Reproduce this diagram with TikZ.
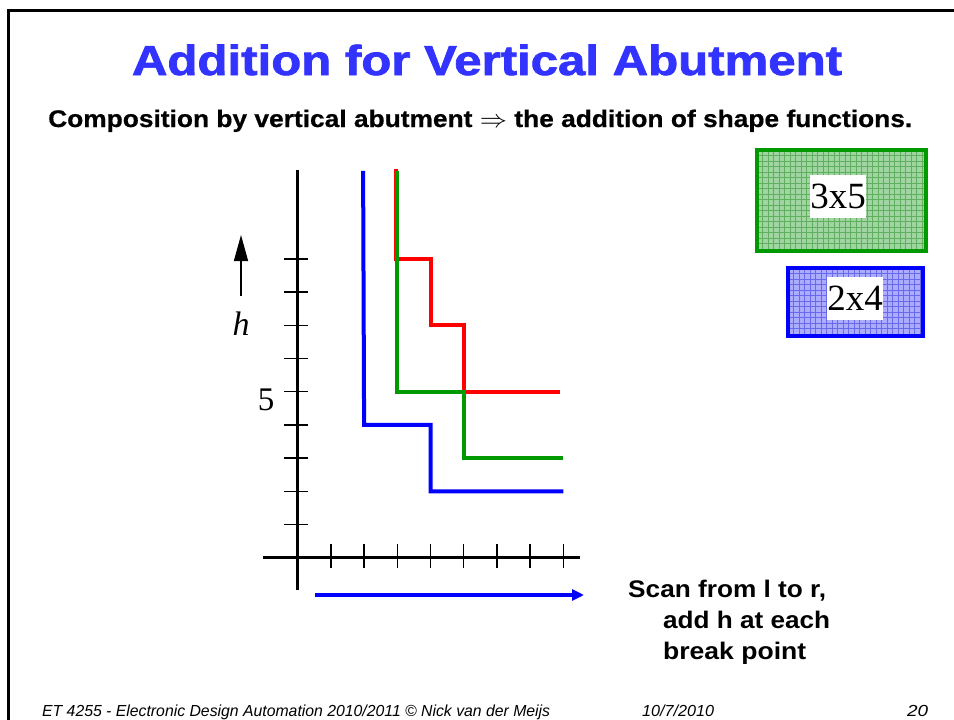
\documentclass[tikz,border=0pt]{standalone}
\usepackage{fontspec}
\setmainfont{Liberation Serif}
\newfontfamily\arial{Liberation Sans}
\newfontfamily\arialheavy{Liberation Sans}[BoldFeatures={FakeBold=1.6}]
\newfontfamily\arialmid{Liberation Sans}[BoldFeatures={FakeBold=0.6}]
\usetikzlibrary{arrows.meta}
\definecolor{ttl}{RGB}{51,51,255}
\definecolor{grn}{RGB}{0,153,0}
\definecolor{blu}{RGB}{0,0,255}
\definecolor{rd}{RGB}{255,0,0}
\definecolor{gfill}{RGB}{160,212,160}
\definecolor{ggrid}{RGB}{95,175,95}
\definecolor{bfill}{RGB}{172,172,255}
\definecolor{bgrid}{RGB}{105,105,235}
\tikzset{
  frameline/.style={line width=3pt, black},
  axisline/.style={line width=2.6pt, black},
  tickline/.style={line width=1.4pt, black},
  curve/.style={line width=4pt, line join=miter},
  lbl/.style={fill=white, inner sep=0pt, minimum width=54pt, minimum height=43pt, font=\fontsize{37}{37}\selectfont},
  sans/.style={font=\arial\bfseries\fontsize{24}{24}\selectfont, inner sep=0pt},
  foot/.style={font=\arial\itshape\fontsize{16}{16}\selectfont, inner sep=0pt},
}
\begin{document}
\begin{tikzpicture}[x=1pt,y=-1pt]
\useasboundingbox (0,0) rectangle (954,720);
\fill[white] (0,0) rectangle (954,720);
% frame
\draw[frameline] (8,721) -- (8,10) -- (955,10);
% title
\node[anchor=base, text=ttl, font=\arialheavy\bfseries\fontsize{42}{42}\selectfont, inner sep=0pt] (title) at (487,75) {\resizebox{710pt}{\height}{Addition for Vertical Abutment}};
\node[anchor=base west, font=\arialmid\bfseries\fontsize{24}{24}\selectfont, inner sep=0pt] (sub) at (48,127) {\resizebox{864pt}{\height}{Composition by vertical abutment $\Rightarrow$ the addition of shape functions.}};
% green box
\fill[gfill] (757,150) rectangle (926,251);
\begin{scope}
\clip (757,150) rectangle (926,251);
\foreach \i in {0,...,31} {\draw[ggrid, line width=0.8pt] (757+5.5*\i,150) -- (757+5.5*\i,251);}
\foreach \i in {0,...,19} {\draw[ggrid, line width=0.8pt] (757,150+5.5*\i) -- (926,150+5.5*\i);}
\end{scope}
\draw[grn, line width=4pt] (757,150) rectangle (926,251);
\node[lbl] (g35) at (838,196.5) {3x5};
% blue box
\fill[bfill] (788,268) rectangle (923,336);
\begin{scope}
\clip (788,268) rectangle (923,336);
\foreach \i in {0,...,25} {\draw[bgrid, line width=0.8pt] (788+5.5*\i,268) -- (788+5.5*\i,336);}
\foreach \i in {0,...,13} {\draw[bgrid, line width=0.8pt] (788,268+5.5*\i) -- (923,268+5.5*\i);}
\end{scope}
\draw[blu, line width=4pt] (788,268) rectangle (923,336);
\node[lbl] (b24) at (855,298) {2x4};
% graph
\begin{scope}[xshift=297.7pt, yshift=-557.7pt, x=33.2pt, y=33.2pt]
\draw[axisline] (0,-0.97) -- (0,11.68);
\draw[axisline] (-1.05,0) -- (8.5,0);
\foreach \k in {1,...,8} {\draw[tickline] (\k,-0.31) -- (\k,0.41);}
\foreach \k in {1,...,9} {\draw[tickline] (-0.41,\k) -- (0.3,\k);}
\draw[curve, rd] (2.96,11.7) -- (2.96,9) -- (4,9) -- (4,7) -- (5,7) -- (5,5) -- (7.9,5);
\draw[curve, grn] (3,11.65) -- (3,5) -- (5,5) -- (5,3) -- (8,3);
\draw[curve, blu] (1.97,11.65) -- (2,4) -- (4,4) -- (4,2) -- (8,2);
\end{scope}
% scan arrow
\coordinate (sa) at (315,595);
\coordinate (sb) at (584,595);
\draw[blu, line width=4pt, -{Triangle[length=12pt,width=11pt]}] (sa) -- (sb);
% up arrow
\coordinate (ua) at (241,296);
\coordinate (ub) at (241,235);
\draw[black, line width=1.5pt, -{Triangle[length=26pt,width=14pt]}] (ua) -- (ub);
\node[anchor=base, font=\itshape\fontsize{34}{34}\selectfont, inner sep=0pt] (h) at (241,335) {h};
\node[anchor=base, font=\fontsize{33}{33}\selectfont, inner sep=0pt] (five) at (266,410) {5};
% scan text
\node[sans, anchor=base west] (s1) at (628,597) {\resizebox{198pt}{\height}{Scan from l to r,}};
\node[sans, anchor=base west] (s2) at (663,628) {\resizebox{167pt}{\height}{add h at each}};
\node[sans, anchor=base west] (s3) at (663,659) {\resizebox{143pt}{\height}{break point}};
% footer
\node[foot, anchor=base west] (f1) at (42,716) {\resizebox{508pt}{\height}{ET 4255 - Electronic Design Automation 2010/2011 \textcopyright{} Nick van der Meijs}};
\node[foot, anchor=base west] (f2) at (642,716) {\resizebox{72pt}{\height}{10/7/2010}};
\node[foot, anchor=base west] (f3) at (907,716) {\resizebox{21pt}{\height}{20}};
\end{tikzpicture}
\end{document}
